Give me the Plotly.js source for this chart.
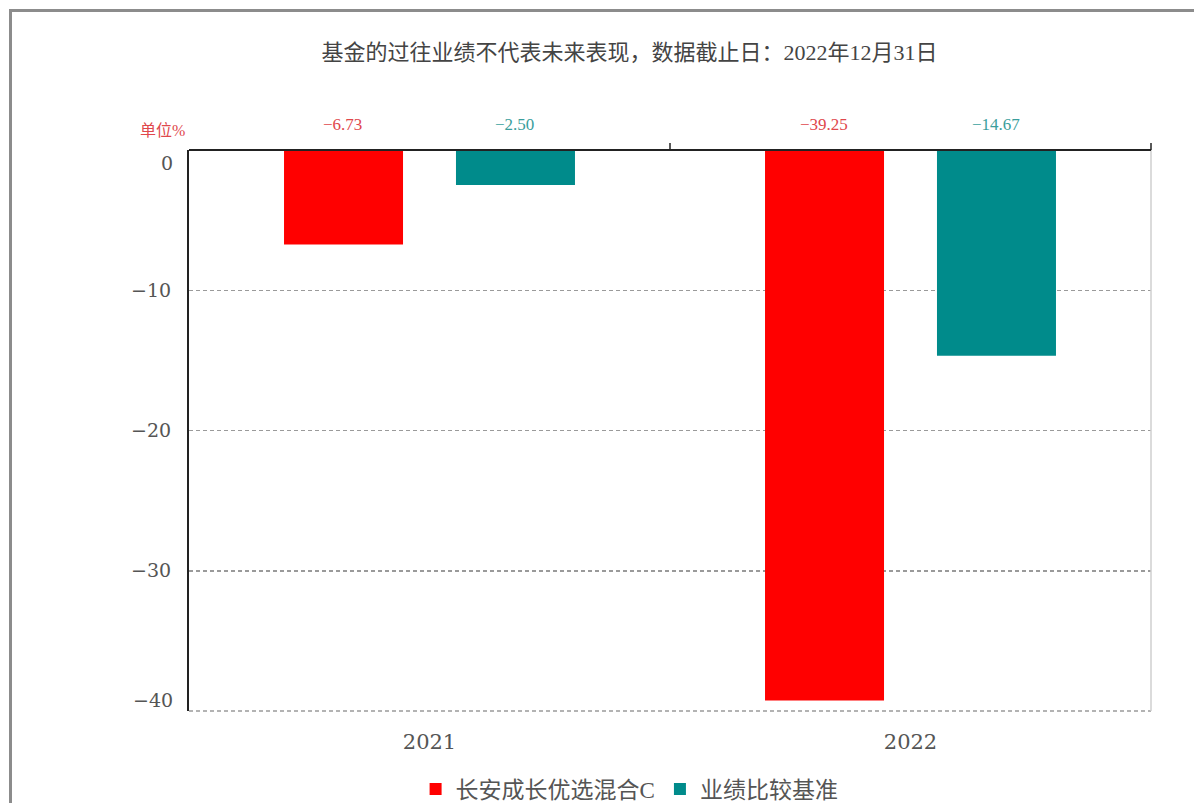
<!DOCTYPE html>
<html>
<head>
<meta charset="utf-8">
<script src="https://cdn.plot.ly/plotly-3.0.1.min.js"></script>
<style>
  html, body { margin:0; padding:0; background:#fff; overflow:hidden; }
  #frame { position:absolute; left:9px; top:9px; width:1300px; height:900px; border:3px solid #8c8c8c; background:#fff; }
  #chart { position:absolute; left:0; top:0; width:1194px; height:803px; }
</style>
</head>
<body>
<div id="frame"></div>
<div id="chart"></div>
<script>
const years = ['2021', '2022'];
const fundName = '长安成长优选混合C';
const benchName = '业绩比较基准';
const fundValues = [-6.73, -39.25];
const benchValues = [-2.50, -14.67];
const yTicks = [0, -10, -20, -30, -40];
const titleText = '基金的过往业绩不代表未来表现，数据截止日：2022年12月31日';
const unitText = '单位%';

const FONT = '"DejaVu Serif", "Noto Sans CJK SC", serif';
const LFONT = '"Liberation Serif", "Noto Sans CJK SC", serif';
const RED = '#ff0000';
const TEAL = '#008b8b';
const fmt = v => (v < 0 ? '\u2212' : '') + Math.abs(v).toFixed(2);
const fmtTick = v => (v < 0 ? '\u2212' : '') + Math.abs(v);

const traces = [
  { type:'bar', name: fundName, x: years, y: fundValues, marker:{color:RED}, hoverinfo:'skip' },
  { type:'bar', name: benchName, x: years, y: benchValues, marker:{color:TEAL}, hoverinfo:'skip' }
];

const annotations = [];
years.forEach((yr, i) => {
  annotations.push({ xref:'x', yref:'paper', x: i, y:1.046, yanchor:'middle', xshift:-87, text: fmt(fundValues[i]),
    showarrow:false, font:{family:LFONT, size:17, color:'#e0474c'} });
  annotations.push({ xref:'x', yref:'paper', x: i, y:1.046, yanchor:'middle', xshift:85, text: fmt(benchValues[i]),
    showarrow:false, font:{family:LFONT, size:17, color:'#3a9e9c'} });
});
annotations.push({ xref:'paper', yref:'paper', x:-0.002, xanchor:'right', y:1.034, yanchor:'middle', text: unitText, showarrow:false,
  font:{family:LFONT, size:16, color:'#e0474c'} });
// end tick labels sit inside the range, as in the reference
const yMax = Math.max(...yTicks), yMin = Math.min(...yTicks);
annotations.push({ xref:'paper', yref:'y', x:-0.015, xanchor:'right', y:yMax, yanchor:'middle', yshift:-13, text: fmtTick(yMax),
  showarrow:false, font:{family:FONT, size:19, color:'#555'} });
annotations.push({ xref:'paper', yref:'y', x:-0.015, xanchor:'right', y:yMin, yanchor:'middle', yshift:11, text: fmtTick(yMin),
  showarrow:false, font:{family:FONT, size:19, color:'#555'} });
const midTicks = yTicks.filter(v => v !== yMax && v !== yMin);

const tickH = 7/561;
const shapes = [
  { type:'line', xref:'paper', yref:'paper', x0:0, x1:1, y0:0, y1:0, line:{color:'#9a9a9a', width:1.5, dash:'4px,3px'}, layer:'above' },
  { type:'line', xref:'paper', yref:'paper', x0:1, x1:1, y0:0, y1:1, line:{color:'#cfcfcf', width:1.5}, layer:'above' },
  { type:'line', xref:'paper', yref:'paper', x0:0, x1:1, y0:1, y1:1, line:{color:'#222', width:2}, layer:'above' },
  { type:'line', xref:'paper', yref:'paper', x0:0.5, x1:0.5, y0:1, y1:1+tickH, line:{color:'#222', width:1.5}, layer:'above' },
  { type:'line', xref:'paper', yref:'paper', x0:1, x1:1, y0:1, y1:1+tickH, line:{color:'#222', width:1.5}, layer:'above' }
];

const layout = {
  width:1194, height:803,
  margin:{l:189, r:43, t:150, b:92, autoexpand:false},
  paper_bgcolor:'rgba(0,0,0,0)', plot_bgcolor:'#fff',
  barmode:'group', bargap:0.285, bargroupgap:0.308,
  title:{ text: titleText, xref:'paper', x:0.458, xanchor:'center', yref:'container', y:0.935, yanchor:'middle',
    font:{family:LFONT, size:22, color:'#444'} },
  xaxis:{ type:'category', showline:false, ticks:'', showgrid:false, zeroline:false,
    tickfont:{family:FONT, size:21, color:'#555'}, ticklabelstandoff:16 },
  yaxis:{ range:[-40, 0], tickvals: midTicks, ticktext: midTicks.map(fmtTick), showline:true, linecolor:'#222', linewidth:2,
    showgrid:true, gridcolor:'#9a9a9a', griddash:'4px,3px', gridwidth:1.5, zeroline:false, ticks:'',
    tickfont:{family:FONT, size:19, color:'#555'}, ticklabelstandoff:12 },
  legend:{ orientation:'h', x:0.458, xanchor:'center', y:-0.139, yanchor:'middle',
    font:{family:LFONT, size:23, color:'#555'} },
  annotations: annotations,
  shapes: shapes,
  showlegend:true
};

Plotly.newPlot('chart', traces, layout, {displayModeBar:false, staticPlot:true});
</script>
</body>
</html>
